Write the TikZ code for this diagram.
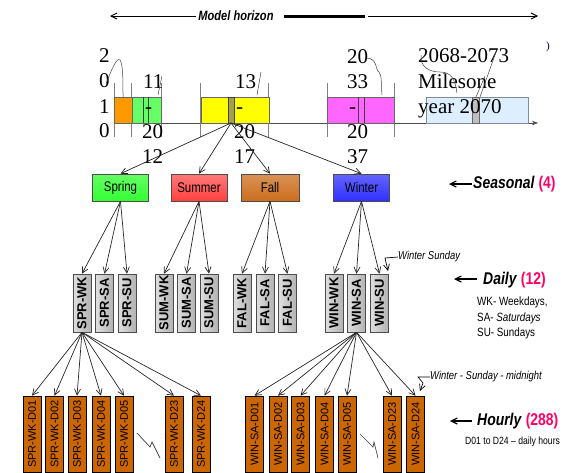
\documentclass[tikz,border=0pt]{standalone}
\usepackage{fontspec}
\setmainfont{Liberation Serif}
\setsansfont{Liberation Sans}
\newfontfamily\narrowsf[FakeStretch=0.82]{Liberation Sans}
\usetikzlibrary{arrows.meta}
\definecolor{tlorange}{HTML}{FF9900}
\definecolor{tlgreen}{HTML}{66FF66}
\definecolor{tlyellow}{HTML}{FFFF00}
\definecolor{tlmagenta}{HTML}{FF66FF}
\definecolor{tlblue}{HTML}{DDEEFF}
\definecolor{tlframe}{HTML}{7F8C99}
\definecolor{sprc}{HTML}{33FF33}
\definecolor{sumc}{HTML}{FF4040}
\definecolor{falc}{HTML}{CC6E1E}
\definecolor{winc}{HTML}{3030FF}
\definecolor{hourc}{HTML}{CC6600}
\definecolor{cntc}{HTML}{FF0066}
\newcommand{\yr}{\fontsize{21}{25}\selectfont}

\begin{document}
\begin{tikzpicture}[x=1pt,y=-1pt,
  >={Straight Barb[length=6pt,width=6pt]},
  conn/.style={->,line width=0.7pt,draw=black!85},
  lblarrow/.style={->,line width=1.2pt},
  yrtxt/.style={anchor=base west,inner sep=0pt,font=\yr},
  seasbox/.style={draw=black!70,line width=0.6pt,minimum width=56pt,minimum height=27pt,inner sep=0pt,font=\narrowsf\fontsize{14}{16}\selectfont},
  daybox/.style={draw=black!70,line width=0.6pt,left color=gray!25,right color=gray!60,minimum width=18pt,minimum height=58pt,inner sep=0pt,font=\sffamily\bfseries\fontsize{13}{15}\selectfont},
  hourbox/.style={draw=black,line width=0.6pt,fill=hourc,minimum width=18pt,minimum height=76pt,inner sep=0pt,font=\sffamily\fontsize{11}{13}\selectfont},
  lvltxt/.style={anchor=west,inner sep=0pt,font=\narrowsf\bfseries\fontsize{17}{20}\selectfont},
  notetxt/.style={anchor=west,inner sep=0pt,font=\narrowsf\itshape\fontsize{11.5}{13}\selectfont},
  squig/.style={line width=0.5pt,draw=black!75}]
\useasboundingbox (0,0) rectangle (585,472);
\clip (0,0) rectangle (585,472);

\node[inner sep=0pt,font=\narrowsf\bfseries\itshape\fontsize{13.5}{15}\selectfont] (horizon) at (236,16) {Model horizon};
\coordinate (hzL) at (110,16);
\coordinate (hzR) at (538,16);
\draw[->,line width=0.9pt] ([xshift=-2pt]horizon.west) -- (hzL);
\draw[line width=3pt] (284,16) -- (365,16);
\draw[->,line width=0.9pt] (368,16) -- (hzR);

\draw[black!70,line width=0.6pt,-{Stealth[length=6pt]}] (114.5,123) -- (538,123);
\foreach \tx in {114.5,131.7,161.6,200.7,268.7,327.6,394.4}
  \draw[gray,line width=0.6pt] (\tx,83) -- (\tx,137);
\filldraw[fill=tlorange,draw=black!60] (114.5,97) rectangle (131.7,123);
\filldraw[fill=tlgreen,draw=black!60] (131.7,97) rectangle (161.6,123);
\filldraw[fill=tlyellow,draw=black!60] (200.7,97) rectangle (268.7,123);
\filldraw[fill=tlmagenta,draw=black!60] (327.6,97) rectangle (394.4,123);
\filldraw[fill=tlblue,draw=tlframe] (426,97) rectangle (528,123);
\draw[black!75,line width=0.7pt] (143.7,97) -- (143.7,123) (148.5,97) -- (148.5,123);
\filldraw[fill=yellow!60!black,draw=black!75,line width=0.7pt] (228.7,97) rectangle (234,123);
\draw[black!75,line width=0.7pt] (358,97) -- (358,123) (364,97) -- (364,123);
\filldraw[fill=gray!50,draw=black!60,line width=0.6pt] (472,97) rectangle (479.5,123);

\node[yrtxt] at (99,62) {2};
\node[yrtxt] at (99,87) {0};
\node[yrtxt] at (99,113) {1};
\node[yrtxt] at (99,137) {0};
\node[yrtxt] at (143,88) {11};
\node[yrtxt] at (145,113) {-};
\node[yrtxt] at (142,138) {20};
\node[yrtxt] at (142,163) {12};
\node[yrtxt] at (235,88) {13};
\node[yrtxt] at (236,113) {-};
\node[yrtxt] at (234,138) {20};
\node[yrtxt] at (234,163) {17};
\node[yrtxt] at (347,63) {20};
\node[yrtxt] at (347,88) {33};
\node[yrtxt] at (349,113) {-};
\node[yrtxt] at (347,138) {20};
\node[yrtxt] at (347,163) {37};
\node[yrtxt] at (418,62) {2068-2073};
\node[yrtxt] at (418,88) {Milesone};
\node[yrtxt] at (418,113) {year 2070};
\node[inner sep=0pt,font=\fontsize{11}{12}\selectfont,text=blue!40!black] (cut) at (548,47) {)};

\draw[squig] (106,84) .. controls (112,68) and (117,57) .. (120,60) .. controls (123,64) and (123,80) .. (123,97);
\draw[squig] (162,76) -- (158,95);
\draw[squig] (261,72) -- (257,95);
\draw[squig] (366,58) .. controls (378,58) and (375,70) .. (379,72) .. controls (382,75) and (381,85) .. (382,95);
\draw[squig] (421,55) .. controls (420,66) and (428,72) .. (440,72) .. controls (452,72) and (455,80) .. (457,93);
\draw[squig] (496,52) -- (480,97) (485,76) -- (476,97);

\node[seasbox,top color=sprc!75,bottom color=sprc] (spring) at (120.5,187.5) {Spring};
\node[seasbox,top color=sumc!70,bottom color=sumc] (summer) at (199,187.5) {Summer};
\node[seasbox,top color=falc!75,bottom color=falc,minimum width=58pt] (fall) at (270,187.5) {Fall};
\node[seasbox,top color=winc!75,bottom color=winc] (winter) at (361.5,187.5) {Winter};
\coordinate (ymark) at (231,123);
\draw[conn] (ymark) -- (spring.north);
\draw[conn] (ymark) -- (summer.north);
\draw[conn] (ymark) -- (fall.north);
\draw[conn] (ymark) -- (winter.north);

\node[daybox] (sprwk) at (82,303) {\rotatebox{90}{SPR-WK}};
\node[daybox] (sprsa) at (104.5,303) {\rotatebox{90}{SPR-SA}};
\node[daybox] (sprsu) at (127,303) {\rotatebox{90}{SPR-SU}};
\node[daybox] (sumwk) at (164,303) {\rotatebox{90}{SUM-WK}};
\node[daybox] (sumsa) at (186.5,303) {\rotatebox{90}{SUM-SA}};
\node[daybox] (sumsu) at (209,303) {\rotatebox{90}{SUM-SU}};
\node[daybox] (falwk) at (242,303) {\rotatebox{90}{FAL-WK}};
\node[daybox] (falsa) at (265,303) {\rotatebox{90}{FAL-SA}};
\node[daybox] (falsu) at (287.5,303) {\rotatebox{90}{FAL-SU}};
\node[daybox] (winwk) at (334,303) {\rotatebox{90}{WIN-WK}};
\node[daybox] (winsa) at (356.5,303) {\rotatebox{90}{WIN-SA}};
\node[daybox] (winsu) at (379.5,303) {\rotatebox{90}{WIN-SU}};
\draw[conn] (spring.south) -- (sprwk.north);
\draw[conn] (spring.south) -- (sprsa.north);
\draw[conn] (spring.south) -- (sprsu.north);
\draw[conn] (summer.south) -- (sumwk.north);
\draw[conn] (summer.south) -- (sumsa.north);
\draw[conn] (summer.south) -- (sumsu.north);
\draw[conn] (fall.south) -- (falwk.north);
\draw[conn] (fall.south) -- (falsa.north);
\draw[conn] (fall.south) -- (falsu.north);
\draw[conn] (winter.south) -- (winwk.north);
\draw[conn] (winter.south) -- (winsa.north);
\draw[conn] (winter.south) -- (winsu.north);

\node[hourbox] (sprd01) at (32,434) {\rotatebox{90}{SPR-WK-D01}};
\node[hourbox] (sprd02) at (54.5,434) {\rotatebox{90}{SPR-WK-D02}};
\node[hourbox] (sprd03) at (77,434) {\rotatebox{90}{SPR-WK-D03}};
\node[hourbox] (sprd04) at (101,434) {\rotatebox{90}{SPR-WK-D04}};
\node[hourbox] (sprd05) at (124,434) {\rotatebox{90}{SPR-WK-D05}};
\node[hourbox] (sprd23) at (174,434) {\rotatebox{90}{SPR-WK-D23}};
\node[hourbox] (sprd24) at (201,434) {\rotatebox{90}{SPR-WK-D24}};
\node[hourbox] (wind01) at (254.5,434) {\rotatebox{90}{WIN-SA-D01}};
\node[hourbox] (wind02) at (278,434) {\rotatebox{90}{WIN-SA-D02}};
\node[hourbox] (wind03) at (300.5,434) {\rotatebox{90}{WIN-SA-D03}};
\node[hourbox] (wind04) at (324.5,434) {\rotatebox{90}{WIN-SA-D04}};
\node[hourbox] (wind05) at (347,434) {\rotatebox{90}{WIN-SA-D05}};
\node[hourbox] (wind23) at (392,434) {\rotatebox{90}{WIN-SA-D23}};
\node[hourbox] (wind24) at (415.5,434) {\rotatebox{90}{WIN-SA-D24}};
\draw[conn] (sprwk.south) -- (sprd01.north);
\draw[conn] (sprwk.south) -- (sprd02.north);
\draw[conn] (sprwk.south) -- (sprd03.north);
\draw[conn] (sprwk.south) -- (sprd04.north);
\draw[conn] (sprwk.south) -- (sprd05.north);
\draw[conn] (sprwk.south) -- (sprd23.north);
\draw[conn] (sprwk.south) -- (sprd24.north);
\draw[conn] (winsa.south) -- (wind01.north);
\draw[conn] (winsa.south) -- (wind02.north);
\draw[conn] (winsa.south) -- (wind03.north);
\draw[conn] (winsa.south) -- (wind04.north);
\draw[conn] (winsa.south) -- (wind05.north);
\draw[conn] (winsa.south) -- (wind23.north);
\draw[conn] (winsa.south) -- (wind24.north);
\draw[squig,line width=0.7pt] (137,433) -- (150,447) -- (152,442) -- (160,458);
\draw[squig,line width=0.7pt] (360,434) -- (373,447) -- (374,442) -- (378,458);

\node[lvltxt] (seaslbl) at (473,184) {\textit{Seasonal} \textcolor{cntc}{(4)}};
\coordinate (seastip) at (449,184);
\draw[lblarrow] ([xshift=-1pt]seaslbl.west) -- (seastip);
\node[lvltxt] (daylbl) at (483,280) {\textit{Daily} \textcolor{cntc}{(12)}};
\coordinate (daytip) at (454,279);
\draw[lblarrow] ([xshift=-6pt,yshift=1pt]daylbl.west) -- (daytip);
\node[anchor=north west,inner sep=0pt,align=left,font=\narrowsf\fontsize{12}{15.5}\selectfont] (daynote) at (477,297) {WK- Weekdays,\\SA- \textit{Saturdays}\\SU- Sundays};
\node[lvltxt] (hourlbl) at (477,421) {\textit{Hourly} \textcolor{cntc}{(288)}};
\coordinate (hourtip) at (450,421);
\draw[lblarrow] ([xshift=-5pt]hourlbl.west) -- (hourtip);
\node[anchor=base west,inner sep=0pt,font=\narrowsf\fontsize{10.5}{12}\selectfont] (hournote) at (465,444) {D01 to D24 \textendash{} daily hours};

\node[notetxt] (winsun) at (398,257) {Winter Sunday};
\coordinate (winsutip) at (388,271);
\draw[->,line width=0.7pt] (winsun.west) -- (385,258) -- (winsutip);
\node[notetxt] (winmid) at (430,377) {Winter - Sunday - midnight};
\coordinate (winmidtip) at (420,391);
\draw[->,line width=0.7pt] (winmid.west) -- (418,377) -- (423,383) -- (winmidtip);
\end{tikzpicture}
\end{document}
